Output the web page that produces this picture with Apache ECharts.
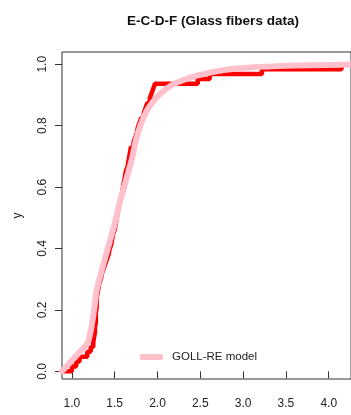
<!DOCTYPE html>
<html>
<head>
<meta charset="utf-8">
<script src="https://cdn.jsdelivr.net/npm/echarts@6/dist/echarts.min.js"></script>
<style>
html,body{margin:0;padding:0;background:#fff;}
#chart{width:351px;height:415px;}
</style>
</head>
<body>
<div id="chart"></div>
<script>
// Observed glass fibre strengths (sorted), read from the ECDF steps
var glassValues = [1.00,1.05,1.09,1.18,1.22,1.25,
  1.26,1.27,1.27,1.28,1.28,1.28,1.29,1.29,1.29,1.30,1.31,
  1.32,1.34,1.35,1.37,
  1.39,1.41,1.43,1.44,1.46,1.47,1.48,1.50,1.51,
  1.52,1.53,1.54,1.55,1.56,1.58,1.59,1.60,1.61,1.62,1.63,1.65,1.66,1.67,1.68,1.69,
  1.72,1.74,1.76,1.77,1.79,1.81,1.84,1.86,1.88,1.91,1.93,1.95,1.97,
  2.47,2.61,3.22,4.15];
// Fitted GOLL-RE model CDF
var modelX = [0.885,1.00,1.10,1.18,1.22,1.26,1.29,1.35,1.40,1.45,1.50,1.55,1.60,1.65,1.70,1.75,1.80,1.85,1.90,2.00,2.10,2.20,2.40,2.60,2.80,3.00,3.40,3.80,4.26];
var modelF = [0.000,0.035,0.065,0.090,0.130,0.200,0.265,0.330,0.380,0.430,0.480,0.540,0.590,0.640,0.690,0.755,0.800,0.835,0.860,0.895,0.920,0.937,0.958,0.972,0.982,0.988,0.994,0.997,0.999];
var xTicks = [1.0,1.5,2.0,2.5,3.0,3.5,4.0];
var yTicks = [0.0,0.2,0.4,0.6,0.8,1.0];
var xMin = 0.885, xMax = 4.26, yMin = -0.025, yMax = 1.04;

var n = glassValues.length;
var ecdfData = [[xMin, 0]];
glassValues.forEach(function(v, i){ ecdfData.push([v, (i + 1) / n]); });
ecdfData.push([xMax, 1]);
var modelData = modelX.map(function(x, i){ return [x, modelF[i]]; });

var FONT = '"Liberation Sans",Arial,sans-serif';
var chart = echarts.init(document.getElementById('chart'), null, {renderer:'canvas'});
chart.setOption({
  animation:false,
  backgroundColor:'#ffffff',
  title:{
    text:'E-C-D-F (Glass fibers data)',
    left:208, top:9, textAlign:'center',
    textStyle:{fontFamily:FONT, fontSize:13.5, fontWeight:'bold', color:'#111'}
  },
  legend:{
    data:['GOLL-RE model'],
    left:140, top:351, padding:0,
    icon:'roundRect', itemWidth:23, itemHeight:6,
    textStyle:{fontFamily:FONT, fontSize:11.5, color:'#222', padding:[0,0,0,4]}
  },
  grid:{
    left:62, top:52, right:-4, bottom:36,
    show:true, borderColor:'#333', borderWidth:1, backgroundColor:'transparent'
  },
  xAxis:{
    type:'value', min:xMin, max:xMax,
    axisLine:{show:false},
    splitLine:{show:false},
    axisTick:{show:true, length:7, inside:false, customValues:xTicks, lineStyle:{color:'#333'}},
    axisLabel:{show:true, customValues:xTicks, margin:19,
      formatter:function(v){return v.toFixed(1);},
      fontFamily:FONT, fontSize:12, color:'#222'}
  },
  yAxis:{
    type:'value', min:yMin, max:yMax,
    name:'y', nameLocation:'middle', nameGap:38, nameRotate:90,
    nameTextStyle:{fontFamily:FONT, fontSize:12, color:'#222'},
    axisLine:{show:false},
    splitLine:{show:false},
    axisTick:{show:true, length:7, inside:false, customValues:yTicks, lineStyle:{color:'#333'}},
    axisLabel:{show:true, customValues:yTicks, margin:13, rotate:90,
      formatter:function(v){return v.toFixed(1);},
      fontFamily:FONT, fontSize:12, color:'#222'}
  },
  series:[
    {
      name:'ECDF', type:'line', data:ecdfData, step:'end',
      showSymbol:false, symbol:'none', clip:true,
      lineStyle:{color:'#ff0000', width:4.5, cap:'butt'},
      itemStyle:{color:'#ff0000'}, z:2
    },
    {
      name:'GOLL-RE model', type:'line', data:modelData, smooth:0.2,
      showSymbol:false, symbol:'none', clip:true,
      lineStyle:{color:'#ffc0cb', width:6, cap:'round'},
      itemStyle:{color:'#ffc0cb'}, z:3
    }
  ]
});
</script>
</body>
</html>
